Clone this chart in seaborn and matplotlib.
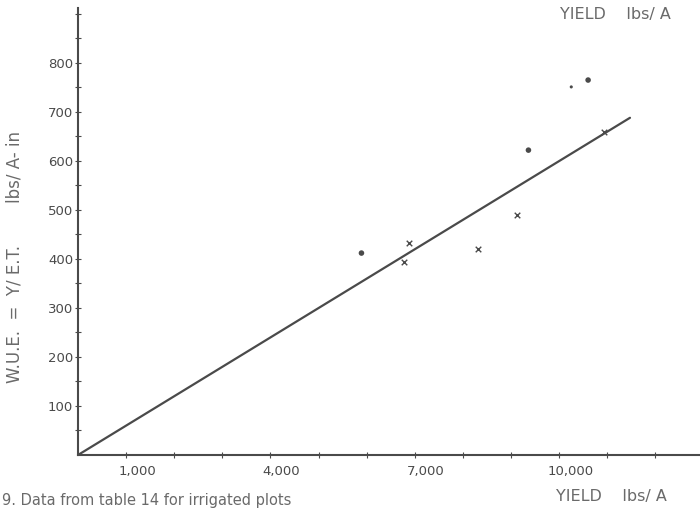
import matplotlib
matplotlib.use('Agg')
import matplotlib.pyplot as plt
import matplotlib.transforms as mtransforms
import pandas as pd
import seaborn as sns

point_yield = [5890, 6870, 6780, 8320, 9130, 9360, 10600, 10250, 10930]
point_wue = [412, 433, 394, 420, 490, 622, 765, 751, 659]
point_kind = ['dot', 'cross', 'cross', 'cross', 'cross', 'dot', 'dot', 'small', 'cross']

# hand-drawn fit line
line_yield = [0, 11470]
line_wue = [0, 688]

x_ticks = list(range(1000, 13000, 1000))
x_labels = ['1,000', '', '', '4,000', '', '', '7,000', '', '', '10,000', '', '']
y_ticks = list(range(50, 950, 50))
y_labels = [str(v) if v % 100 == 0 and v <= 800 else '' for v in y_ticks]

INK = '#4a4a4a'
TEXT = '#6a6a6a'

sns.set_style('white')
plt.rcParams['font.family'] = ['DejaVu Sans']

pts = pd.DataFrame({'yield': point_yield, 'wue': point_wue, 'kind': point_kind})
line = pd.DataFrame({'yield': line_yield, 'wue': line_wue})

fig = plt.figure(figsize=(7, 5.09), dpi=100)
ax = fig.add_axes([78 / 700, 54 / 509, 622 / 700, 447 / 509])

sns.lineplot(data=line, x='yield', y='wue', color=INK, linewidth=1.6, ax=ax)
dots = pts[pts['kind'] != 'cross']
sns.scatterplot(data=dots, x='yield', y='wue', size='kind', sizes={'dot': 16, 'small': 5},
                marker='o', color=INK, linewidth=0, legend=False, ax=ax)
sns.scatterplot(data=pts[pts['kind'] == 'cross'], x='yield', y='wue', marker='x', s=16,
                color=INK, linewidth=1.0, legend=False, ax=ax)

ax.set_xlim(0, 12925)
ax.set_ylim(0, 912)
ax.set_xticks(x_ticks)
ax.set_xticklabels(x_labels)
ax.set_yticks(y_ticks)
ax.set_yticklabels(y_labels)
ax.set_xlabel('')
ax.set_ylabel('')
ax.tick_params(axis='both', bottom=True, left=True, direction='inout', length=5, width=0.8,
               color=INK, labelsize=9.5, labelcolor=INK)
ax.tick_params(axis='x', pad=5)
ax.tick_params(axis='y', pad=1)
shift = mtransforms.ScaledTranslation(11 / 100, 0, fig.dpi_scale_trans)
for lab in ax.get_xticklabels():
    lab.set_transform(lab.get_transform() + shift)

for side in ['top', 'right']:
    ax.spines[side].set_visible(False)
for side in ['left', 'bottom']:
    ax.spines[side].set_color(INK)
    ax.spines[side].set_linewidth(1.5)
ax.patch.set_alpha(0)

fig.text(15 / 700, 1 - 257 / 509, 'W.U.E.  =  Y/ E.T.        lbs/ A- in', rotation=90,
         ha='center', va='center', fontsize=12, color=TEXT)
fig.text(615 / 700, 1 - 14 / 509, 'YIELD    lbs/ A', ha='center', va='center',
         fontsize=11.5, color=TEXT)
fig.text(611 / 700, 1 - 497 / 509, 'YIELD    lbs/ A', ha='center', va='center',
         fontsize=11.5, color=TEXT)
fig.text(2 / 700, 1 / 509, '9. Data from table 14 for irrigated plots', ha='left',
         va='bottom', fontsize=10.5, color=TEXT)

fig.savefig('out.png', dpi=100, facecolor='white')
